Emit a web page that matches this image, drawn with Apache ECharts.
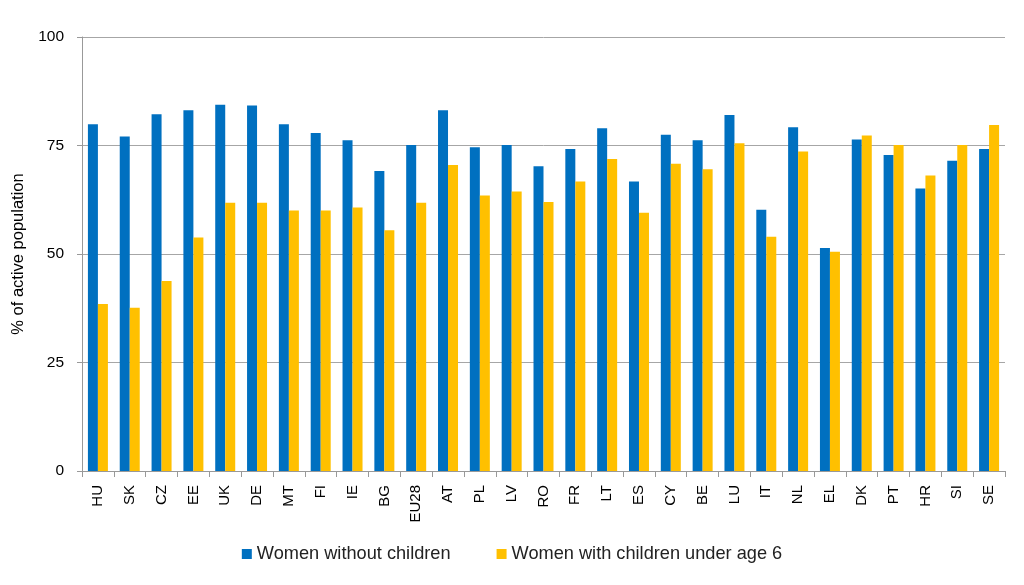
<!DOCTYPE html>
<html>
<head>
<meta charset="utf-8">
<script src="https://cdn.jsdelivr.net/npm/echarts@6/dist/echarts.min.js"></script>
<style>html,body{margin:0;padding:0;background:#fff;}#c{width:1024px;height:585px;}</style>
</head>
<body>
<div id="c"></div>
<script>
var categories = ["HU","SK","CZ","EE","UK","DE","MT","FI","IE","BG","EU28","AT","PL","LV","RO","FR","LT","ES","CY","BE","LU","IT","NL","EL","DK","PT","HR","SI","SE"];
var withoutChildren = [79.9,77.1,82.2,83.1,84.4,84.2,79.9,77.9,76.2,69.1,75.1,83.1,74.6,75.1,70.2,74.2,79.0,66.7,77.5,76.2,82.0,60.2,79.2,51.4,76.4,72.8,65.1,71.5,74.2];
var withChildrenUnder6 = [38.5,37.6,43.8,53.8,61.8,61.8,60.0,60.0,60.7,55.5,61.8,70.5,63.5,64.4,62.0,66.7,71.9,59.5,70.8,69.5,75.5,54.0,73.6,50.5,77.3,75.1,68.1,75.1,79.7];
var seriesNames = ["Women without children","Women with children under age 6"];
var yTicks = {min:0, max:100, interval:25};
var axisName = "% of active population";

var font = "'Liberation Sans', Arial, sans-serif";
var chart = echarts.init(document.getElementById('c'));
chart.setOption({
  animation:false,
  textStyle:{fontFamily:font},
  grid:{left:82, right:19, top:37, bottom:114},
  legend:{
    data:seriesNames, bottom:17, left:'center', itemWidth:10, itemHeight:10, itemGap:46,
    icon:'rect', textStyle:{fontSize:18.2, color:'#222', fontFamily:font}
  },
  xAxis:{
    type:'category', data:categories,
    axisLine:{lineStyle:{color:'#999'}},
    axisTick:{show:true, alignWithLabel:false, length:6, lineStyle:{color:'#999'}},
    axisLabel:{rotate:90, fontSize:15, color:'#000', margin:14, interval:0}
  },
  yAxis:{
    type:'value', min:yTicks.min, max:yTicks.max, interval:yTicks.interval,
    name:axisName, nameLocation:'middle', nameGap:55, nameRotate:90,
    nameTextStyle:{fontSize:16.5, color:'#000'},
    axisLine:{show:true, lineStyle:{color:'#999'}},
    axisTick:{show:true, length:5, lineStyle:{color:'#999'}},
    axisLabel:{fontSize:15.5, color:'#000', margin:18},
    splitLine:{lineStyle:{color:'#a6a6a6', width:1}}
  },
  series:[
    {name:seriesNames[0], type:'bar', data:withoutChildren, barWidth:10, barGap:'0%', itemStyle:{color:'#0070C0'}},
    {name:seriesNames[1], type:'bar', data:withChildrenUnder6, barWidth:10, barGap:'0%', itemStyle:{color:'#FFC000'}}
  ]
});
</script>
</body>
</html>
